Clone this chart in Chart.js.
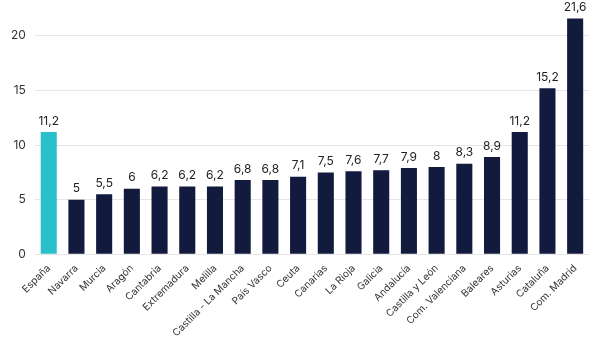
<!DOCTYPE html>
<html><head><meta charset="utf-8">
<script src="https://cdn.jsdelivr.net/npm/chart.js@4"></script>
<style>html,body{margin:0;padding:0;background:#fff;}#w{width:599px;height:339px;}</style>
</head><body><div id="w"><canvas id="c"></canvas></div>
<script>
const categories = ["España","Navarra","Murcia","Aragón","Cantabria","Extremadura","Melilla","Castilla - La Mancha","País Vasco","Ceuta","Canarias","La Rioja","Galicia","Andalucía","Castilla y León","Com. Valenciana","Baleares","Asturias","Cataluña","Com. Madrid"];
const values = [11.2,5,5.5,6,6.2,6.2,6.2,6.8,6.8,7.1,7.5,7.6,7.7,7.9,8,8.3,8.9,11.2,15.2,21.6];
const yTicks = [0,5,10,15,20];
const colors = categories.map((c,i)=> i===0 ? "#2bbfcb" : "#121a3e");

const valueLabels = {
  id:'valueLabels',
  afterDatasetsDraw(chart){
    const ctx = chart.ctx;
    const meta = chart.getDatasetMeta(0);
    ctx.save();
    ctx.font = "12px Inter, 'Open Sans', sans-serif";
    ctx.fillStyle = "#222";
    ctx.textAlign = "center";
    ctx.textBaseline = "bottom";
    meta.data.forEach((bar,i)=>{
      ctx.fillText(String(values[i]).replace('.',','), bar.x, bar.y-5);
    });
    ctx.restore();
  }
};

new Chart(document.getElementById('c'),{
  type:'bar',
  data:{labels:categories,datasets:[{data:values,backgroundColor:colors,barPercentage:0.58,categoryPercentage:1}]},
  options:{
    responsive:true,maintainAspectRatio:false,animation:false,
    layout:{padding:{left:2,right:10,top:0,bottom:0}},
    plugins:{legend:{display:false},tooltip:{enabled:false}},
    scales:{
      x:{grid:{display:false},border:{display:false},
         ticks:{maxRotation:45,minRotation:45,autoSkip:false,color:"#333",padding:0,font:{family:"Inter, 'Open Sans', sans-serif",size:10}}},
      y:{min:0,max:21.8,border:{display:false},
         grid:{color:"#e6e6e6",drawTicks:false},
         afterBuildTicks(s){s.ticks = yTicks.map(v=>({value:v}));},
         ticks:{color:"#333",padding:9,font:{family:"Inter, 'Open Sans', sans-serif",size:12}}}
    }
  },
  plugins:[valueLabels]
});
</script></body></html>
